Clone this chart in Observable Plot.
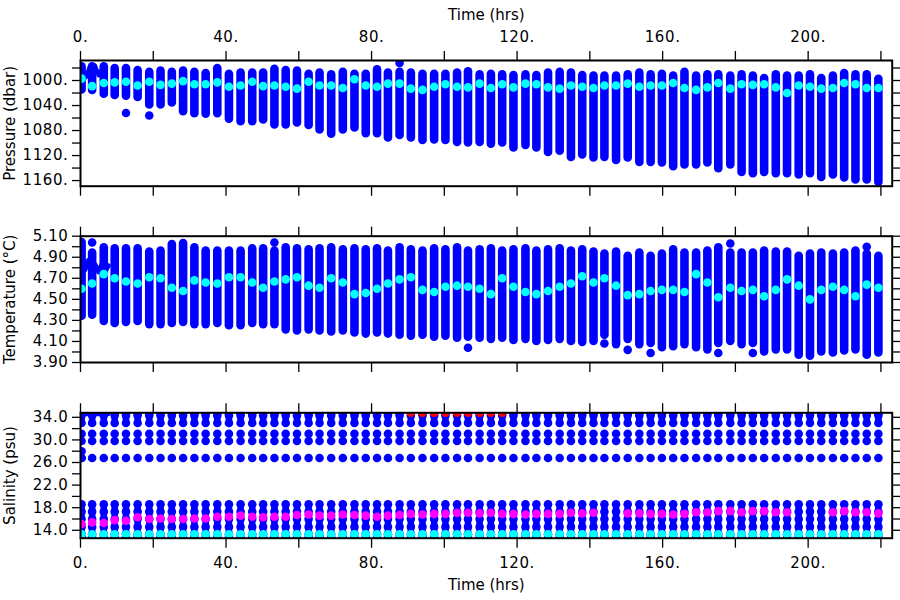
<!DOCTYPE html>
<html><head><meta charset="utf-8">
<script src="https://cdn.jsdelivr.net/npm/d3@7"></script>
<script src="https://cdn.jsdelivr.net/npm/@observablehq/plot@0.6"></script>
<style>
body{margin:0;background:#fff;}
#wrap{position:relative;width:900px;height:600px;overflow:hidden;background:#fff;}
#wrap svg{position:absolute;left:0;}
#wrap svg g[aria-label$="tick label"] text{letter-spacing:0.6px;}
</style></head><body><div id="wrap"></div>
<script>
// ---- profile times (hrs) ----
const times = [0.3,3.2,6.4,9.4,12.5,15.7,18.9,22.0,25.1,28.2,31.3,34.4,37.6,40.8,44.0,47.2,50.2,53.3,56.4,59.5,62.7,65.7,68.9,72.1,75.3,78.4,81.5,84.5,87.7,90.8,94.0,97.2,100.3,103.5,106.5,109.7,112.8,115.9,119.0,122.3,125.3,128.5,131.7,134.8,137.9,141.0,144.0,147.2,150.4,153.6,156.7,159.8,162.9,166.0,169.2,172.3,175.3,178.6,181.7,184.8,187.9,191.1,194.2,197.4,200.5,203.6,206.8,209.9,213.0,216.1,219.3];

// ---- pressure (dbar) ----
const presTop = [978,978,978,981,981,984,987,985,987,985,987,989,981,990,988,988,988,982,984,985,990,988,991,987,990,990,983,988,987,988,990,990,990,988,986,991,990,991,992,991,992,988,987,988,992,993,993,993,991,988,991,990,993,987,993,991,991,993,991,993,997,991,993,993,991,997,993,989,991,991,998];
const presBot = [1015,1016,1022,1024,1025,1027,1039,1039,1036,1050,1053,1054,1053,1062,1066,1066,1063,1071,1071,1068,1072,1079,1086,1079,1076,1085,1085,1092,1088,1092,1096,1095,1096,1099,1100,1099,1102,1100,1108,1104,1108,1115,1113,1123,1119,1124,1123,1128,1124,1131,1131,1132,1138,1135,1135,1132,1141,1135,1147,1149,1147,1149,1149,1151,1149,1155,1151,1156,1159,1159,1163];
const presCyan = [997,1009,1004,1003,1002,1008,1002,1007,1005,1001,1006,1006,1003,1010,1008,1002,1009,1008,1010,1013,1002,1008,1008,1012,998,1008,1010,1005,1005,1013,1015,1010,1006,1010,1011,1005,1012,1006,1011,1005,1006,1011,1013,1008,1010,1012,1008,1008,1005,1010,1008,1008,1004,1012,1015,1011,1004,1013,1006,1007,1006,1011,1020,1008,1010,1013,1012,1004,1006,1012,1012];
const presOutT = [12.5,18.9,87.7];
const presOutV = [1052,1056,972];
const presScribT = [0.3,1.5,2.5,3.2,4.0,5.0,6.0,7.0];
const presScribV = [980,995,978,990,976,992,980,985];

// ---- temperature (deg C) ----
const tempTop = [5.04,4.94,4.99,4.98,4.98,4.98,4.95,4.96,5.02,5.03,4.99,4.96,4.96,4.96,4.96,4.98,4.98,4.96,4.99,4.98,4.97,4.98,4.99,4.97,4.98,4.97,4.98,4.96,4.99,4.97,4.96,4.98,4.97,4.99,4.96,4.97,4.98,4.96,4.97,4.98,4.96,4.97,4.98,4.96,4.97,4.95,4.93,4.95,4.91,4.94,4.91,4.93,4.97,4.94,4.94,4.96,4.99,4.94,4.94,4.94,4.96,4.95,4.95,4.91,4.93,4.94,4.93,4.94,4.96,4.93,4.91];
const tempBot = [4.34,4.35,4.29,4.27,4.28,4.29,4.26,4.26,4.27,4.28,4.26,4.26,4.27,4.25,4.25,4.27,4.26,4.26,4.21,4.20,4.21,4.20,4.19,4.20,4.18,4.17,4.18,4.17,4.16,4.15,4.16,4.14,4.15,4.13,4.14,4.13,4.12,4.13,4.11,4.12,4.10,4.11,4.12,4.10,4.09,4.10,4.16,4.07,4.12,4.07,4.08,4.04,4.05,4.07,4.04,4.02,4.08,4.10,4.07,4.08,4.00,4.02,4.02,3.97,3.96,4.00,3.99,4.01,4.02,3.97,3.99];
const tempCyan = [4.60,4.65,4.74,4.70,4.67,4.65,4.71,4.70,4.61,4.58,4.68,4.66,4.65,4.71,4.71,4.66,4.61,4.67,4.69,4.71,4.63,4.61,4.70,4.66,4.55,4.56,4.60,4.65,4.69,4.71,4.59,4.57,4.62,4.63,4.62,4.60,4.55,4.70,4.62,4.57,4.55,4.58,4.62,4.65,4.72,4.66,4.70,4.63,4.54,4.55,4.58,4.59,4.59,4.57,4.74,4.66,4.52,4.61,4.58,4.59,4.53,4.59,4.69,4.63,4.50,4.59,4.62,4.59,4.53,4.64,4.61];
const tempOutT = [3.2,53.3,178.6,216.1,144.0,150.4,156.7,175.3,184.8,106.5];
const tempOutV = [5.04,5.04,5.03,5.00,4.08,4.02,3.99,3.99,3.99,4.04];
const tempScribT = [0.3,1.2,2.2,3.2,4.0,5.0,6.0,7.0,7.6];
const tempScribV = [4.85,4.78,4.87,4.75,4.83,4.76,4.84,4.78,4.82];

// ---- salinity (psu) ----
const salLevels = [34.7,34.3,33.0,31.1,29.8,26.8,18.6,17.3,16.0,14.6,13.3,12.7];
const salMagenta = [15.1,15.4,15.3,15.8,15.7,16.3,16.0,16.1,16.0,16.0,16.1,16.1,16.4,16.4,16.6,16.4,16.3,16.4,16.4,16.7,16.8,16.6,16.6,16.8,16.7,16.6,16.4,16.6,16.7,16.9,16.8,16.9,16.9,17.1,17.1,17.0,17.1,16.9,16.9,16.8,16.9,16.9,16.9,17.1,17.0,17.1,null,null,17.0,17.0,16.9,16.9,16.8,16.9,17.2,17.2,17.4,17.4,17.2,17.4,17.4,17.2,17.2,null,null,null,17.2,17.4,17.2,17.2,17.0];
const salCyan = [13.3,13.3,13.3,13.3,13.3,13.3,13.3,13.3,13.3,13.3,13.3,13.3,13.3,13.3,13.3,13.3,13.3,13.3,13.3,13.3,13.3,13.3,13.3,13.3,13.3,13.3,13.3,13.3,13.3,13.3,13.3,13.3,13.3,13.3,13.3,13.3,13.3,13.3,13.3,13.3,13.3,13.3,13.3,13.3,13.3,13.3,13.3,13.3,13.3,13.3,13.3,13.3,13.3,13.3,13.3,13.3,13.3,13.3,13.3,13.3,13.3,13.3,13.3,13.3,13.3,13.3,13.3,13.3,13.3,13.3,13.3];
const salRedT = [90.8,94.0,97.2,100.3,103.5,106.5,109.7,112.8,115.9];
const salRedV = [34.8,34.8,34.8,34.8,34.8,34.8,34.8,34.8,34.8];
const salExtraT = [0.3,0.3];
const salExtraV = [28.0,26.8];
const salScribT = [0.0,7.5];
const salScribV = [34.65,34.65];

// ---- ticks ----
const xTicks = [0,20,40,60,80,100,120,140,160,180,200,220];
const xLabels = [0,40,80,120,160,200];
const presTicks = [980,1000,1020,1040,1060,1080,1100,1120,1140,1160];
const presLabels = [1000,1040,1080,1120,1160];
const tempTicks = [3.9,4.0,4.1,4.2,4.3,4.4,4.5,4.6,4.7,4.8,4.9,5.0,5.1];
const tempLabels = [3.9,4.1,4.3,4.5,4.7,4.9,5.1];
const salTicks = [14,16,18,20,22,24,26,28,30,32,34];
const salLabels = [14,18,22,26,30,34];

const BLUE = "#0000ff", CYAN = "#00ffff", MAG = "#ff00ff", RED = "#ff0000";
const R = 4.3;
const FS = 15;
const idx = times.map((_, i) => i);

function panel(cfg) {
  const svg = Plot.plot({
    width: 900, height: cfg.height,
    marginLeft: 80, marginRight: 8.3, marginTop: cfg.mt, marginBottom: cfg.mb,
    x: {domain: [0, 223.1]},
    y: {domain: cfg.yDomain, reverse: !!cfg.reverse},
    style: {fontFamily: '"DejaVu Sans", sans-serif', fontSize: "15px", color: "black", background: "transparent", overflow: "visible"},
    marks: [
      ...cfg.marks,
      Plot.frame({stroke: "black", strokeWidth: 2}),
      Plot.axisY({anchor: "left", ticks: cfg.yTicks, tickSize: 8, tickPadding: 4, strokeWidth: 1.3, fontSize: FS,
        tickFormat: d => cfg.yLabels.includes(d) ? cfg.fmt(d) : "", label: null}),
      Plot.axisY({anchor: "right", ticks: cfg.yTicks, tickSize: 8, strokeWidth: 1.3, tickFormat: () => "", label: null}),
      Plot.axisX({anchor: "top", ticks: xTicks, tickSize: 10, tickPadding: 9, strokeWidth: 1.3, fontSize: FS,
        tickFormat: d => cfg.topLabels && xLabels.includes(d) ? d + "." : "", label: null}),
      Plot.axisX({anchor: "bottom", ticks: xTicks, tickSize: 10, tickPadding: 9, strokeWidth: 1.3, fontSize: FS,
        tickFormat: d => cfg.bottomLabels && xLabels.includes(d) ? d + "." : "", label: null}),
      Plot.text([cfg.title], {text: d => d, frameAnchor: "left", dx: -70, rotate: -90, textAnchor: "middle", fontSize: FS}),
      ...(cfg.extraText || [])
    ]
  });
  svg.style.top = cfg.top + "px";
  return svg;
}

const wrap = document.getElementById("wrap");

// Pressure panel
wrap.appendChild(panel({
  top: 0, height: 200, mt: 60, mb: 14.3,
  yDomain: [968, 1169], reverse: true,
  yTicks: presTicks, yLabels: presLabels, fmt: d => d + ".",
  topLabels: true, bottomLabels: false,
  title: "Pressure (dbar)",
  extraText: [Plot.text(["Time (hrs)"], {text: d => d, frameAnchor: "top", dy: -51, textAnchor: "middle", fontSize: FS})],
  marks: [
    Plot.ruleX(idx, {x: i => times[i], y1: i => presTop[i], y2: i => presBot[i], stroke: BLUE, strokeWidth: 2 * R, strokeLinecap: "round", clip: true}),
    Plot.line(presScribT.map((t, i) => [t, presScribV[i]]), {x: d => d[0], y: d => d[1], stroke: BLUE, strokeWidth: 4, clip: true}),
    Plot.dot(presOutT.map((t, i) => [t, presOutV[i]]), {x: d => d[0], y: d => d[1], r: R, fill: BLUE, clip: true}),
    Plot.dot(idx, {x: i => times[i], y: i => presCyan[i], r: R, fill: CYAN, clip: true})
  ]
}));

// Temperature panel
wrap.appendChild(panel({
  top: 200, height: 180, mt: 35.7, mb: 18,
  yDomain: [3.9, 5.1],
  yTicks: tempTicks, yLabels: tempLabels, fmt: d3.format(".2f"),
  topLabels: false, bottomLabels: false,
  title: "Temperature (°C)",
  marks: [
    Plot.ruleX(idx, {x: i => times[i], y1: i => tempTop[i], y2: i => tempBot[i], stroke: BLUE, strokeWidth: 2 * R, strokeLinecap: "round", clip: true}),
    Plot.line(tempScribT.map((t, i) => [t, tempScribV[i]]), {x: d => d[0], y: d => d[1], stroke: BLUE, strokeWidth: 5, clip: true}),
    Plot.dot(tempOutT.map((t, i) => [t, tempOutV[i]]), {x: d => d[0], y: d => d[1], r: R, fill: BLUE, clip: true}),
    Plot.dot(idx, {x: i => times[i], y: i => tempCyan[i], r: R, fill: CYAN, clip: true})
  ]
}));

// Salinity panel
const salGrid = [];
idx.forEach(i => salLevels.forEach(v => salGrid.push([times[i], v])));
wrap.appendChild(panel({
  top: 380, height: 220, mt: 32.3, mb: 62.3,
  yDomain: [12.6, 34.8],
  yTicks: salTicks, yLabels: salLabels, fmt: d3.format(".1f"),
  topLabels: false, bottomLabels: true,
  title: "Salinity (psu)",
  extraText: [Plot.text(["Time (hrs)"], {text: d => d, frameAnchor: "bottom", dy: 51.3, textAnchor: "middle", fontSize: FS})],
  marks: [
    Plot.ruleX(idx, {x: i => times[i], y1: salLevels[10], y2: salLevels[6], stroke: BLUE, strokeWidth: 6.5, clip: true}),
    Plot.ruleX(idx, {x: i => times[i], y1: salLevels[2], y2: salLevels[0], stroke: BLUE, strokeWidth: 6.5, clip: true}),
    Plot.dot(salGrid, {x: d => d[0], y: d => d[1], r: R, fill: BLUE, clip: true}),
    Plot.line(salScribT.map((t, i) => [t, salScribV[i]]), {x: d => d[0], y: d => d[1], stroke: BLUE, strokeWidth: 5, clip: true}),
    Plot.dot(salExtraT.map((t, i) => [t, salExtraV[i]]), {x: d => d[0], y: d => d[1], r: R, fill: BLUE, clip: true}),
    Plot.dot(idx.filter(i => salMagenta[i] != null), {x: i => times[i], y: i => salMagenta[i], r: R, fill: MAG, clip: true}),
    Plot.dot(idx, {x: i => times[i], y: i => salCyan[i], r: R, fill: CYAN, clip: true}),
    Plot.dot(salRedT.map((t, i) => [t, salRedV[i]]), {x: d => d[0], y: d => d[1], r: R, fill: RED, clip: true})
  ]
}));
</script>
</body></html>
